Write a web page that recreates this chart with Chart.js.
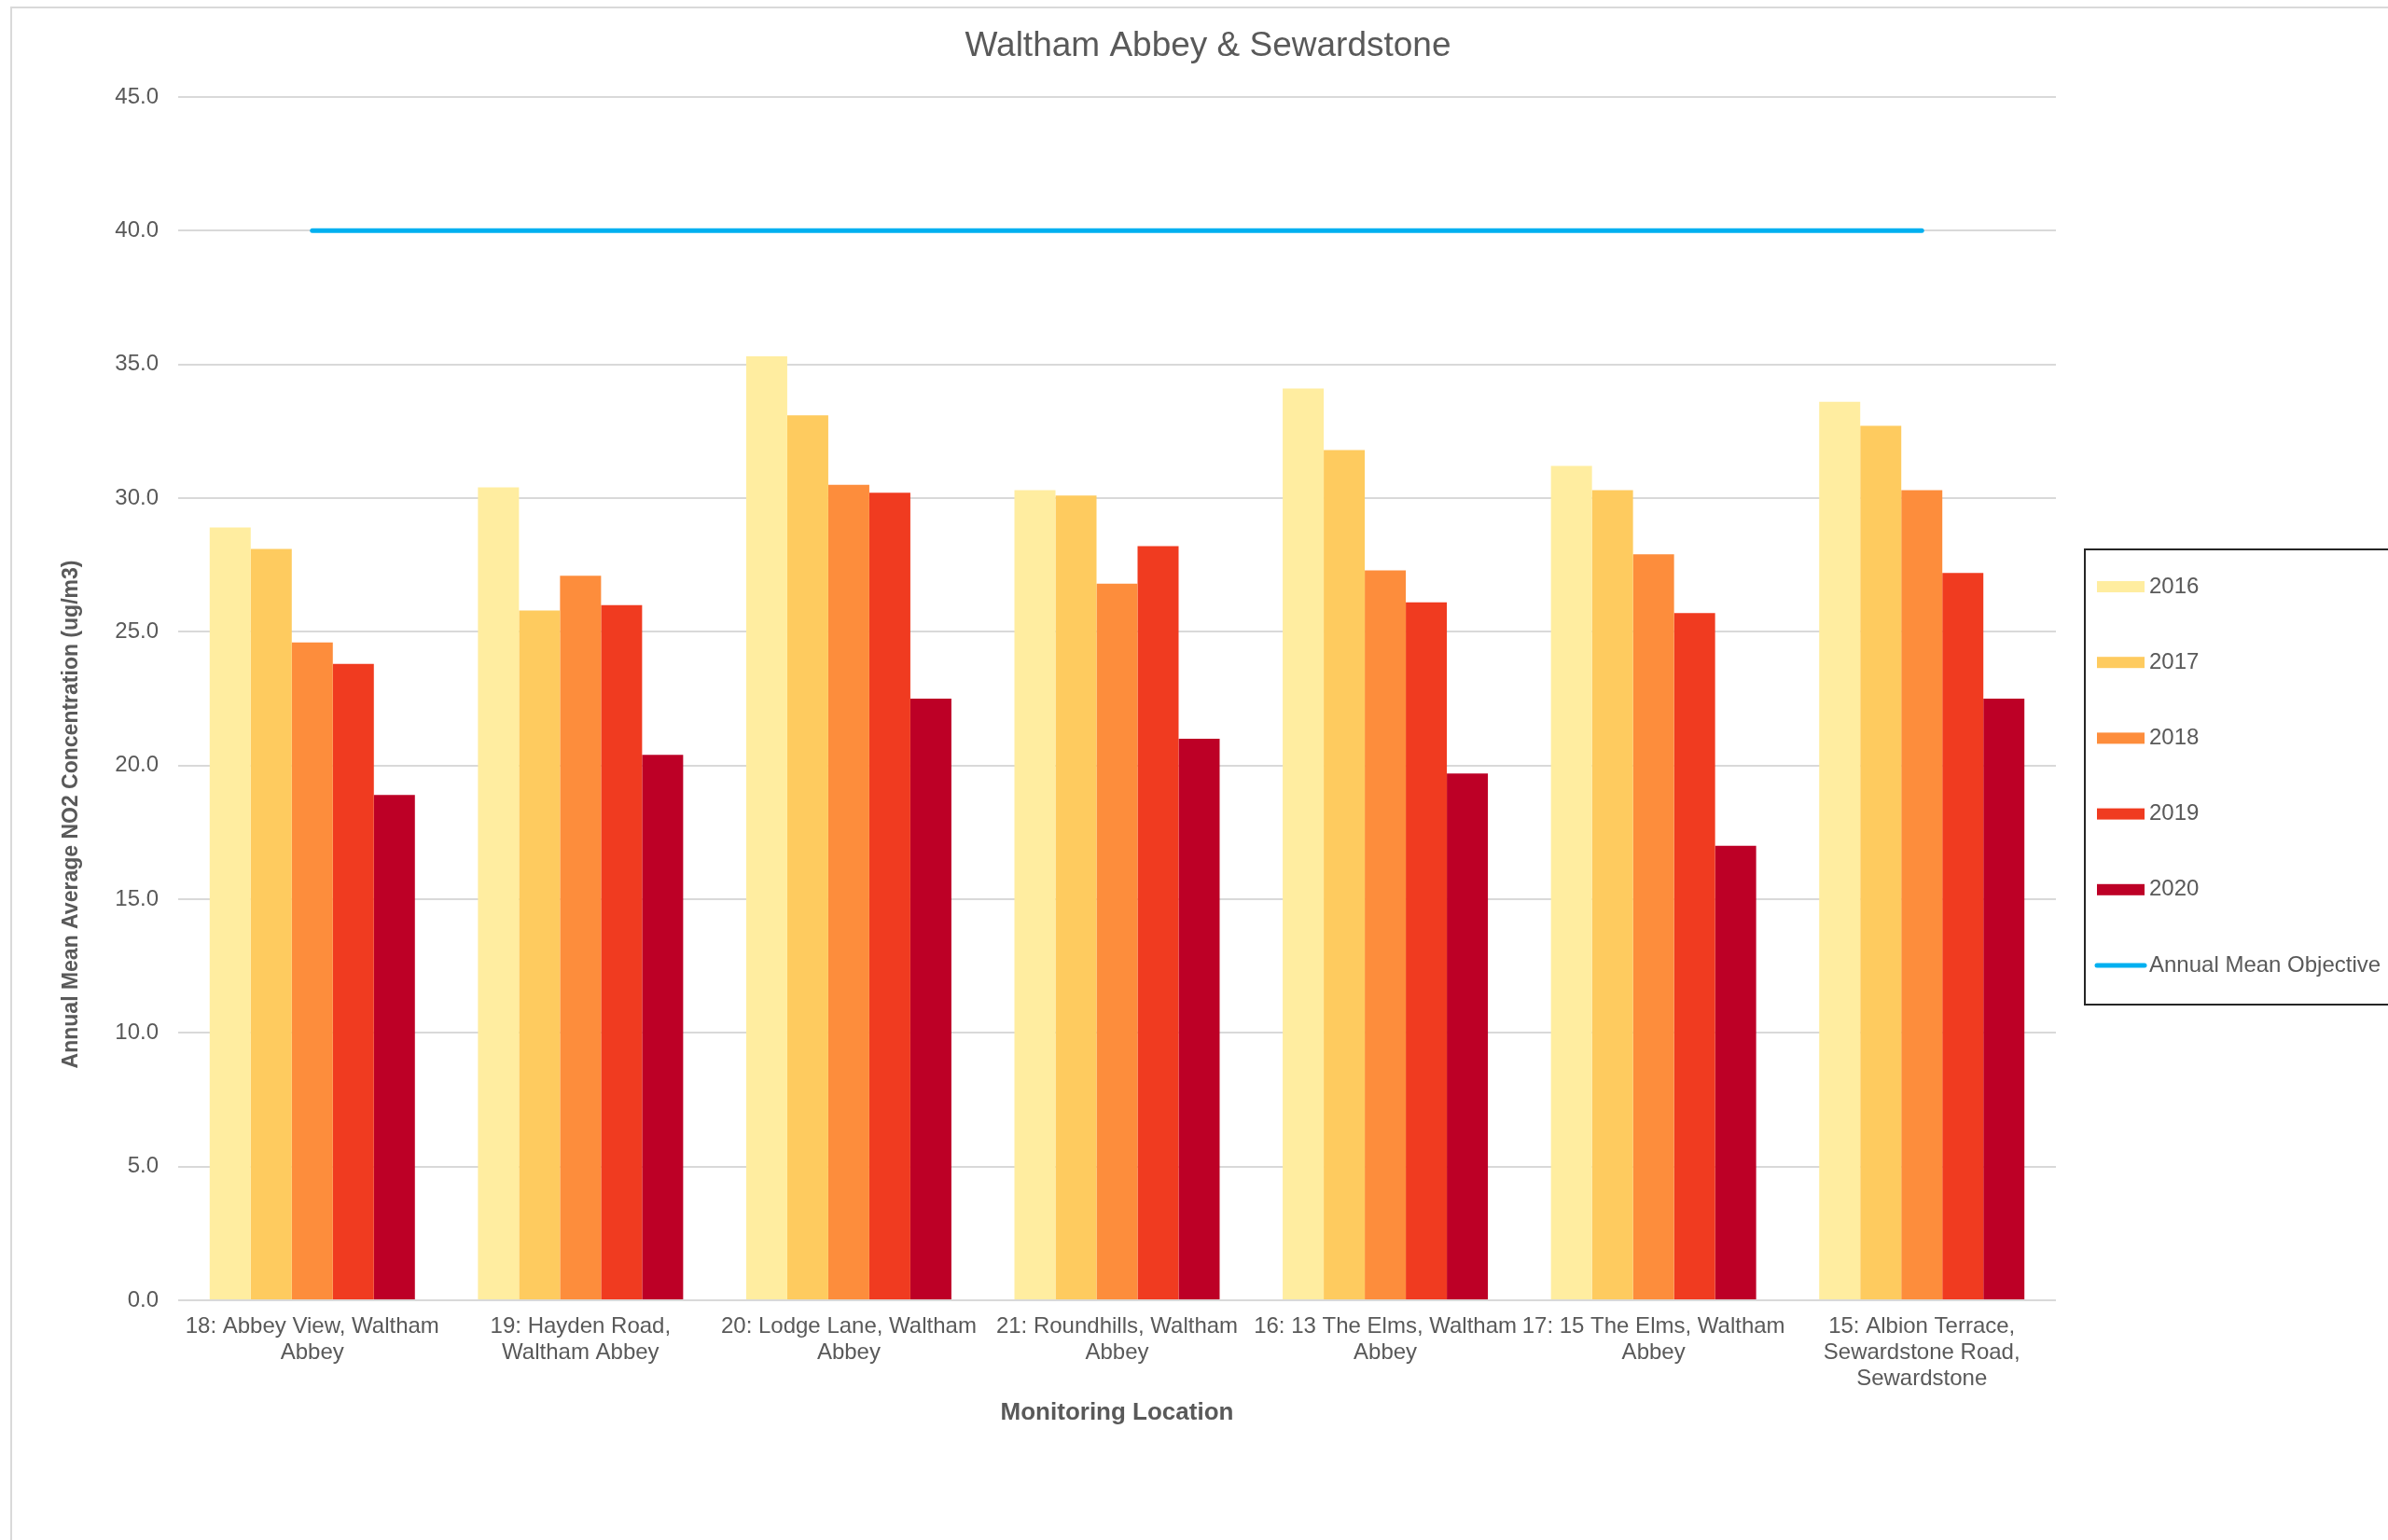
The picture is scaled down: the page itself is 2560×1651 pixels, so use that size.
<!DOCTYPE html>
<html>
<head>
<meta charset="utf-8">
<title>Waltham Abbey &amp; Sewardstone</title>
<script src="https://cdn.jsdelivr.net/npm/chart.js@4/dist/chart.umd.min.js"></script>
<style>
  html, body { margin: 0; padding: 0; background: #ffffff; }
  #wrap { width: 2560px; height: 1651px; }
</style>
</head>
<body>
<div id="wrap"><canvas id="chart" width="2560" height="1651"></canvas></div>
<script>
// Monitoring locations (multi-line category labels)
const locations = [
  ['18: Abbey View, Waltham', 'Abbey'],
  ['19: Hayden Road,', 'Waltham Abbey'],
  ['20: Lodge Lane, Waltham', 'Abbey'],
  ['21: Roundhills, Waltham', 'Abbey'],
  ['16: 13 The Elms, Waltham', 'Abbey'],
  ['17: 15 The Elms, Waltham', 'Abbey'],
  ['15: Albion Terrace,', 'Sewardstone Road,', 'Sewardstone']
];

// Annual mean NO2 (ug/m3) per year
const years = ['2016', '2017', '2018', '2019', '2020'];
const no2_2016 = [28.9, 30.4, 35.3, 30.3, 34.1, 31.2, 33.6];
const no2_2017 = [28.1, 25.8, 33.1, 30.1, 31.8, 30.3, 32.7];
const no2_2018 = [24.6, 27.1, 30.5, 26.8, 27.3, 27.9, 30.3];
const no2_2019 = [23.8, 26.0, 30.2, 28.2, 26.1, 25.7, 27.2];
const no2_2020 = [18.9, 20.4, 22.5, 21.0, 19.7, 17.0, 22.5];

// Air quality objective line
const objectiveLabel = 'Annual Mean Objective';
const objective = [40, 40, 40, 40, 40, 40, 40];

// Value axis ticks
const yMin = 0;
const yMax = 45;
const yStep = 5;

const chartTitle = 'Waltham Abbey & Sewardstone';
const xTitle = 'Monitoring Location';
const yTitle = 'Annual Mean Average NO2 Concentration (ug/m3)';

const yearColours = ['#ffeda0', '#fecb5f', '#fd8d3c', '#f03b20', '#bd0026'];
const objectiveColour = '#00b0f0';
const textColour = '#595959';
const fontFamily = '"Liberation Sans", Arial, sans-serif';

Chart.defaults.font.family = fontFamily;
Chart.defaults.color = textColour;

const yearSeries = [no2_2016, no2_2017, no2_2018, no2_2019, no2_2020];

const datasets = [
  {
    type: 'line',
    label: objectiveLabel,
    data: objective,
    borderColor: objectiveColour,
    backgroundColor: objectiveColour,
    borderWidth: 5,
    borderCapStyle: 'round',
    pointRadius: 0,
    fill: false,
    order: 0
  }
].concat(years.map((y, i) => ({
  type: 'bar',
  label: y,
  data: yearSeries[i],
  backgroundColor: yearColours[i],
  borderWidth: 0,
  categoryPercentage: 0.765,
  barPercentage: 1.0,
  order: 1
})));

// Light outer frame of the chart object
const framePlugin = {
  id: 'frame',
  beforeDraw(chart) {
    const ctx = chart.ctx;
    ctx.save();
    ctx.strokeStyle = '#d9d9d9';
    ctx.lineWidth = 2;
    ctx.beginPath();
    ctx.moveTo(12, chart.height);
    ctx.lineTo(12, 8);
    ctx.lineTo(chart.width, 8);
    ctx.stroke();
    ctx.restore();
  }
};

// Chart title centred on the whole chart object, and the rotated value-axis title
const titlesPlugin = {
  id: 'titles',
  afterDraw(chart) {
    const ctx = chart.ctx;
    ctx.save();
    ctx.font = '37px ' + fontFamily;
    ctx.fillStyle = textColour;
    ctx.textAlign = 'center';
    ctx.textBaseline = 'middle';
    ctx.fillText(chartTitle, 1295, 50);

    ctx.translate(77, 873);
    ctx.rotate(-Math.PI / 2);
    ctx.font = 'bold 23px ' + fontFamily;
    ctx.fillText(yTitle, 0, 0);
    ctx.restore();
  }
};

// Boxed legend on the right, years first, objective last
const boxLegendPlugin = {
  id: 'boxLegend',
  afterDraw(chart) {
    const ctx = chart.ctx;
    const box = { left: 2235, top: 589, bottom: 1077 };
    const firstY = 629, step = 81.2;
    const swX = 2248, swW = 51, swH = 12, textX = 2304;
    ctx.save();
    ctx.strokeStyle = '#262626';
    ctx.lineWidth = 2;
    ctx.strokeRect(box.left, box.top, chart.width - box.left + 10, box.bottom - box.top);

    const items = chart.data.datasets.filter(d => d.type === 'bar')
      .concat(chart.data.datasets.filter(d => d.type === 'line'));
    ctx.font = '24px ' + fontFamily;
    ctx.textBaseline = 'middle';
    ctx.textAlign = 'left';
    items.forEach((d, i) => {
      const y = firstY + i * step;
      if (d.type === 'line') {
        ctx.strokeStyle = d.borderColor;
        ctx.lineWidth = 5;
        ctx.lineCap = 'round';
        ctx.beginPath();
        ctx.moveTo(swX, y);
        ctx.lineTo(swX + swW, y);
        ctx.stroke();
      } else {
        ctx.fillStyle = d.backgroundColor;
        ctx.fillRect(swX, y - swH / 2, swW, swH);
      }
      ctx.fillStyle = textColour;
      ctx.fillText(d.label, textX, y);
    });
    ctx.restore();
  }
};

new Chart(document.getElementById('chart'), {
  data: { labels: locations, datasets: datasets },
  options: {
    responsive: false,
    animation: false,
    layout: { padding: { left: 0, right: 356, top: 104, bottom: 0 } },
    plugins: {
      legend: { display: false },
      tooltip: { enabled: false },
      title: { display: false }
    },
    scales: {
      x: {
        grid: { display: false, drawTicks: false },
        border: { display: false },
        ticks: {
          color: textColour,
          font: { size: 24, lineHeight: 1.17 },
          padding: 14,
          maxRotation: 0,
          minRotation: 0,
          autoSkip: false
        },
        title: {
          display: true,
          text: xTitle,
          color: textColour,
          font: { size: 26, weight: 'bold' },
          padding: { top: 0, bottom: 121 }
        },
        afterFit(scale) { scale.height = 257; }
      },
      y: {
        min: yMin,
        max: yMax,
        grid: { color: '#d9d9d9', lineWidth: 2, drawTicks: false },
        border: { display: false },
        ticks: {
          stepSize: yStep,
          color: textColour,
          font: { size: 24 },
          padding: 21,
          callback: v => Number(v).toFixed(1)
        },
        afterFit(scale) { scale.width = 191; }
      }
    }
  },
  plugins: [framePlugin, titlesPlugin, boxLegendPlugin]
});
</script>
</body>
</html>
